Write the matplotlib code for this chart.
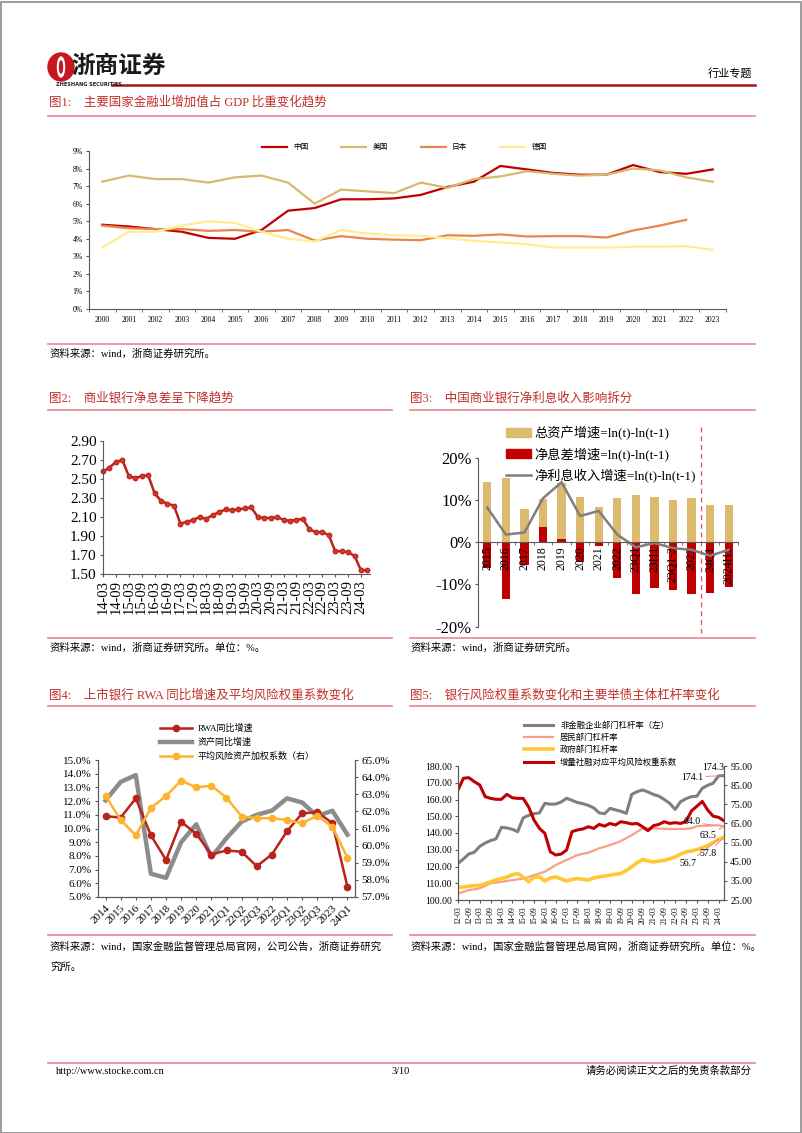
import numpy as np
import matplotlib.pyplot as plt
from matplotlib.lines import Line2D
from matplotlib.patches import Rectangle, Patch, Ellipse

W, H = 802, 1133
plt.rcParams['font.family'] = ['Liberation Serif', 'Noto Sans CJK SC']
plt.rcParams['axes.unicode_minus'] = False

# ---- 图1 金融业增加值占GDP比重 (%)
years1 = ['2000', '2001', '2002', '2003', '2004', '2005', '2006', '2007', '2008', '2009', '2010', '2011',
          '2012', '2013', '2014', '2015', '2016', '2017', '2018', '2019', '2020', '2021', '2022', '2023']
china = [4.8, 4.7, 4.55, 4.4, 4.05, 4.0, 4.5, 5.6, 5.75, 6.25, 6.25, 6.3,
         6.5, 6.95, 7.25, 8.15, 7.95, 7.75, 7.65, 7.65, 8.2, 7.8, 7.7, 7.95]
usa = [7.25, 7.6, 7.4, 7.4, 7.2, 7.5, 7.6, 7.2, 6.0, 6.8, 6.7, 6.6,
       7.2, 6.9, 7.4, 7.55, 7.85, 7.7, 7.6, 7.65, 8.0, 7.9, 7.5, 7.25]
japan = [4.75, 4.6, 4.55, 4.55, 4.45, 4.5, 4.4, 4.5, 3.9, 4.15, 4.0, 3.95,
         3.92, 4.2, 4.17, 4.25, 4.13, 4.15, 4.15, 4.07, 4.47, 4.75, 5.08]
germany = [3.5, 4.4, 4.4, 4.75, 5.0, 4.9, 4.4, 4.0, 3.85, 4.5, 4.3, 4.2,
           4.17, 4.03, 3.88, 3.8, 3.69, 3.5, 3.5, 3.5, 3.55, 3.55, 3.58, 3.37]

# ---- 图2 商业银行净息差 (%)
nim = [2.58, 2.62, 2.68, 2.70, 2.53, 2.51, 2.53, 2.54, 2.35, 2.27, 2.24, 2.22,
       2.03, 2.05, 2.07, 2.10, 2.08, 2.12, 2.15, 2.18, 2.17, 2.18, 2.19, 2.20,
       2.10, 2.09, 2.09, 2.10, 2.07, 2.06, 2.07, 2.08, 1.97, 1.94, 1.94, 1.91,
       1.74, 1.74, 1.73, 1.69, 1.54, 1.54]
nim_labels = ['14-03', '14-09', '15-03', '15-09', '16-03', '16-09', '17-03', '17-09', '18-03', '18-09',
              '19-03', '19-09', '20-03', '20-09', '21-03', '21-09', '22-03', '22-09', '23-03', '23-09', '24-03']

# ---- 图3 净利息收入拆分 (%)
cats3 = ['2015', '2016', '2017', '2018', '2019', '2020', '2021', '2022',
         '23Q1', '23H1', '23Q1-3', '2023', '24Q1', '2024H1']
asset_g = [14.3, 15.3, 7.8, 10.3, 14.0, 10.8, 8.3, 10.4, 11.1, 10.6, 10.0, 10.5, 8.8, 8.8]
nim_g = [-6.1, -13.5, -5.5, 3.7, 0.8, -4.6, -0.9, -8.5, -12.3, -10.9, -11.4, -12.2, -12.1, -10.6]
nii_g = [8.2, 1.8, 2.3, 10.4, 14.2, 6.2, 7.4, 1.8, -1.2, -0.2, -1.4, -1.8, -3.2, -1.8]

# ---- 图4 RWA / 资产增速 / 平均风险权重
cats4 = ['2014', '2015', '2016', '2017', '2018', '2019', '2020', '2021', '22Q1', '22Q2', '22Q3',
         '2022', '23Q1', '23Q2', '23Q3', '2023', '24Q1']
rwa_g = [10.9, 10.8, 12.2, 9.5, 7.7, 10.5, 9.6, 8.1, 8.4, 8.3, 7.25, 8.1, 9.8, 11.1, 11.2, 10.4, 5.75]
asset_yoy = [12.05, 13.4, 13.9, 6.7, 6.4, 9.0, 10.3, 7.9, 9.3, 10.5, 11.0, 11.3, 12.2, 11.9, 10.9, 11.3, 9.55]
rw_avg = [62.9, 61.5, 60.6, 62.2, 62.9, 63.8, 63.4, 63.5, 62.8, 61.7, 61.6, 61.6, 61.5, 61.3, 61.75, 61.1, 59.3]

# ---- 图5 杠杆率与风险权重系数 (季度 12Q1-24Q2)
lev_labels = ['12-03', '12-09', '13-03', '13-09', '14-03', '14-09', '15-03', '15-09', '16-03', '16-09',
              '17-03', '17-09', '18-03', '18-09', '19-03', '19-09', '20-03', '20-09', '21-03', '21-09',
              '22-03', '22-09', '23-03', '23-09', '24-03']
corp_lev = [121.9, 124.5, 127.5, 128.5, 132.0, 134.0, 135.5, 136.5, 143.4, 143.0, 142.2, 140.8,
            149.0, 150.5, 151.5, 152.0, 157.7, 157.2, 157.3, 158.5, 160.7, 159.5, 158.2, 157.5,
            156.5, 155.0, 152.0, 151.5, 154.7, 153.8, 153.0, 151.7, 163.0, 164.7, 165.7, 164.5,
            163.0, 162.0, 160.0, 157.7, 154.1, 158.7, 160.5, 161.7, 162.0, 166.7, 168.5, 169.7,
            174.1, 174.3]
house_lev = [28.4, 29.3, 30.2, 30.6, 31.1, 32.4, 33.7, 34.1, 34.5, 35.0, 35.4, 35.8,
             36.1, 37.0, 38.0, 38.9, 39.8, 41.5, 43.3, 44.6, 45.9, 47.2, 48.5, 49.1,
             49.7, 50.8, 52.0, 52.8, 53.7, 54.7, 55.8, 57.3, 58.9, 60.6, 62.4, 62.4,
             62.4, 62.3, 62.2, 62.1, 62.1, 62.1, 62.2, 62.5, 63.6, 63.7, 63.8, 64.0,
             64.0, 63.5]
gov_lev = [31.4, 31.8, 32.2, 32.5, 32.6, 33.5, 34.5, 35.5, 36.2, 37.0, 38.2, 38.8,
           37.0, 34.5, 36.8, 37.1, 35.0, 36.5, 37.1, 36.0, 34.9, 35.8, 36.2, 35.8,
           35.4, 36.5, 37.1, 37.5, 38.0, 38.5, 38.8, 40.5, 42.3, 44.5, 46.1, 45.5,
           44.9, 45.3, 45.7, 46.5, 47.5, 49.0, 50.1, 50.6, 51.3, 52.3, 53.5, 55.0,
           56.7, 57.8]
tsf_rw = [82.5, 88.6, 88.9, 86.8, 85.1, 79.0, 78.1, 77.6, 77.6, 80.2, 78.4, 78.1,
          78.1, 73.7, 66.8, 62.4, 59.8, 50.2, 48.5, 49.0, 51.1, 60.7, 61.6, 62.1,
          63.3, 62.4, 64.5, 63.6, 65.0, 64.2, 65.9, 65.4, 64.7, 65.0, 63.3, 61.2,
          63.8, 64.5, 65.9, 65.0, 65.4, 65.0, 66.0, 71.5, 74.0, 76.5, 72.0, 68.8,
          68.2, 66.4]

TITLE_RED = '#C0302B'
RULE = '#E58A90'
AXC = '#595959'

fig = plt.figure(figsize=(W / 100, H / 100), dpi=100)


def box(x0, y0, x1, y1):
    return fig.add_axes([x0 / W, 1 - y1 / H, (x1 - x0) / W, (y1 - y0) / H])


def txt(x, y, s, **kw):
    kw.setdefault('va', 'center')
    return fig.text(x / W, 1 - y / H, s, **kw)


def hline(x0, x1, y, **kw):
    fig.add_artist(Line2D([x0 / W, x1 / W], [1 - y / H, 1 - y / H], **kw))


def style(ax, spines=('left', 'bottom')):
    for k, s in ax.spines.items():
        s.set_visible(k in spines)
        s.set_color(AXC)
        s.set_linewidth(0.8)
    ax.tick_params(colors=AXC, labelcolor='black', width=0.8, length=2.5)
    ax.set_facecolor('none')


# page frame
fig.add_artist(Rectangle((0.5 / W, 0.5 / H), (W - 2) / W, (H - 2) / H, fill=False,
                         ec='#8C8C8C', lw=1.2, transform=fig.transFigure))

# header
fig.add_artist(Ellipse((61 / W, 1 - 67 / H), 26 / W, 28 / H, color='#C8161D', transform=fig.transFigure))
fig.add_artist(Ellipse((61 / W, 1 - 67 / H), 7 / W, 20 / H, color='white', transform=fig.transFigure))
fig.add_artist(Ellipse((61 / W, 1 - 67 / H), 3 / W, 12 / H, color='#C8161D', transform=fig.transFigure))
txt(71, 66, '浙商证券', fontsize=17, fontweight='bold', color='#1A1A1A', family='Noto Sans CJK SC')
txt(56, 85, 'ZHESHANG SECURITIES', fontsize=3.6, fontweight='bold', color='#1A1A1A', family='DejaVu Sans')
txt(752, 73, '行业专题', fontsize=8, ha='right')
hline(112, 755, 84.5, color='#A8141A', lw=1.8)

# titles / rules / sources
txt(49, 102, '图1:    主要国家金融业增加值占 GDP 比重变化趋势', fontsize=9, color=TITLE_RED)
hline(48, 755, 116, color=RULE, lw=1.2)
hline(48, 755, 344, color=RULE, lw=1.2)
txt(50, 354, '资料来源：wind，浙商证券研究所。', fontsize=7.5)

txt(49, 398, '图2:    商业银行净息差呈下降趋势', fontsize=9, color=TITLE_RED)
txt(410, 398, '图3:    中国商业银行净利息收入影响拆分', fontsize=9, color=TITLE_RED)
hline(48, 392, 410, color=RULE, lw=1.2)
hline(410, 755, 410, color=RULE, lw=1.2)
hline(48, 392, 638, color=RULE, lw=1.2)
hline(410, 755, 638, color=RULE, lw=1.2)
txt(50, 648, '资料来源：wind，浙商证券研究所。单位：%。', fontsize=7.5)
txt(411, 648, '资料来源：wind，浙商证券研究所。', fontsize=7.5)

txt(49, 695, '图4:    上市银行 RWA 同比增速及平均风险权重系数变化', fontsize=9, color=TITLE_RED)
txt(410, 695, '图5:    银行风险权重系数变化和主要举债主体杠杆率变化', fontsize=9, color=TITLE_RED)
hline(48, 392, 706, color=RULE, lw=1.2)
hline(410, 755, 706, color=RULE, lw=1.2)
hline(48, 392, 935, color=RULE, lw=1.2)
hline(410, 755, 935, color=RULE, lw=1.2)
txt(50, 947, '资料来源：wind，国家金融监督管理总局官网，公司公告，浙商证券研究', fontsize=7.5)
txt(50, 968, '究所。', fontsize=7.5)
txt(411, 947, '资料来源：wind，国家金融监督管理总局官网，浙商证券研究所。单位：%。', fontsize=7.5)

# footer
hline(48, 755, 1063, color=RULE, lw=1.2)
txt(56, 1071, 'http://www.stocke.com.cn', fontsize=7.5)
txt(401, 1071, '3/10', fontsize=7.5, ha='center')
txt(752, 1071, '请务必阅读正文之后的免责条款部分', fontsize=7.5, ha='right')

# ---------------- 图1
ax1 = box(89, 151, 726, 309)
style(ax1)
x1 = np.arange(len(years1))
ax1.plot(x1, china, color='#C00000', lw=1.6, label='中国')
ax1.plot(x1, usa, color='#D9B86F', lw=1.6, label='美国')
ax1.plot(np.arange(len(japan)), japan, color='#E9844B', lw=1.6, label='日本')
ax1.plot(x1, germany, color='#FFEE90', lw=1.6, label='德国')
ax1.set_xlim(-0.5, len(years1) - 0.5)
ax1.set_ylim(0, 9)
ax1.set_yticks(range(10))
ax1.set_yticklabels([f'{v}%' for v in range(10)])
ax1.set_xticks(x1)
ax1.set_xticklabels(years1)
ax1.set_xticks(np.arange(-0.5, len(years1)), minor=True)
ax1.tick_params(axis='x', which='major', length=0, labelsize=5.5, pad=5)
ax1.tick_params(axis='x', which='minor', length=2.5, color=AXC)
ax1.tick_params(axis='y', labelsize=5.5, pad=2)
ax1.legend(ncol=4, loc='lower left', bbox_to_anchor=(258 / W, 1 - 155 / H), bbox_transform=fig.transFigure,
           frameon=False, fontsize=5.5, handlelength=3.3, handletextpad=0.8, columnspacing=4.3, borderpad=0)

# ---------------- 图2
ax2 = box(103, 441, 370, 574)
style(ax2)
x2 = np.arange(len(nim))
ax2.plot(x2, nim, color='#B8231A', lw=1.8, marker='o', ms=3.2, mfc='#D53A2B', mec='#C0281E', clip_on=False)
ax2.set_xlim(0, len(nim) - 0.6)
ax2.set_ylim(1.5, 2.9)
yt2 = np.arange(1.5, 2.91, 0.2)
ax2.set_yticks(yt2)
ax2.set_yticklabels([f'{v:.2f}' for v in yt2])
ax2.set_xticks(np.arange(0, len(nim), 2))
ax2.set_xticklabels(nim_labels, rotation=90)
ax2.tick_params(axis='y', labelsize=11, pad=2)
ax2.tick_params(axis='x', labelsize=10.5, pad=2)

# ---------------- 图3
ax3 = box(478, 457.7, 738, 626.7)
style(ax3)
x3 = np.arange(len(cats3))
ax3.bar(x3, asset_g, width=0.45, color='#DDBB6E')
ax3.bar(x3, nim_g, width=0.45, color='#C00000')
l3, = ax3.plot(x3, nii_g, color='#7F7F7F', lw=1.8)
ax3.set_xlim(-0.5, len(cats3) - 0.5)
ax3.set_ylim(-20, 20)
ax3.set_yticks([-20, -10, 0, 10, 20])
ax3.set_yticklabels([f'{v}%' for v in [-20, -10, 0, 10, 20]])
ax3.spines['bottom'].set_position(('data', 0))
ax3.set_xticks(x3)
ax3.set_xticklabels(cats3, rotation=90)
ax3.set_xticks(np.arange(-0.5, len(cats3)), minor=True)
ax3.tick_params(axis='x', which='major', length=0, labelsize=8.5, pad=3)
ax3.tick_params(axis='x', which='minor', length=2.5, color=AXC)
ax3.tick_params(axis='y', labelsize=12, pad=2)
ax3.legend([Patch(color='#DDBB6E'), Patch(color='#C00000'), l3],
           ['总资产增速=ln(t)-ln(t-1)', '净息差增速=ln(t)-ln(t-1)', '净利息收入增速=ln(t)-ln(t-1)'],
           loc='upper left', bbox_to_anchor=(499 / W, 1 - 419 / H), bbox_transform=fig.transFigure,
           frameon=False, fontsize=9.5, handlelength=1.9, handletextpad=0.3, labelspacing=0.55, borderpad=0)
fig.add_artist(Line2D([700.9 / W] * 2, [1 - 427 / H, 1 - 633 / H], color='#E0505A', lw=0.9, ls=(0, (4, 3))))

# ---------------- 图4
ax4 = box(98, 760, 355, 897)
style(ax4, ('left', 'bottom', 'right'))
ax4r = ax4.twinx()
style(ax4r, ('left', 'bottom', 'right'))
x4 = np.arange(len(cats4))
la, = ax4.plot(x4, rwa_g, color='#B8231A', lw=1.8, marker='o', ms=4.5, zorder=3)
lb, = ax4.plot(x4, asset_yoy, color='#8C8C8C', lw=3.2, zorder=2)
lc, = ax4r.plot(x4, rw_avg, color='#FDB32F', lw=1.8, marker='o', ms=4.5)
ax4.set_xlim(-0.5, len(cats4) - 0.5)
ax4.set_ylim(5, 15)
ax4.set_yticks(range(5, 16))
ax4.set_yticklabels([f'{v:.1f}%' for v in range(5, 16)])
ax4r.set_ylim(57, 65)
ax4r.set_yticks(range(57, 66))
ax4r.set_yticklabels([f'{v:.1f}%' for v in range(57, 66)])
ax4.set_xticks(x4)
ax4.set_xticklabels(cats4, rotation=45, ha='right', rotation_mode='anchor')
ax4.tick_params(axis='x', labelsize=8, pad=2)
ax4.tick_params(axis='y', labelsize=8, pad=2)
ax4r.tick_params(axis='y', labelsize=8, pad=2)
ax4.legend([la, lb, lc], ['RWA同比增速', '资产同比增速', '平均风险资产加权系数（右）'],
           loc='upper left', bbox_to_anchor=(155 / W, 1 - 719 / H), bbox_transform=fig.transFigure,
           frameon=False, fontsize=6.5, handlelength=3.6, handletextpad=0.6, labelspacing=0.55, borderpad=0)

# ---------------- 图5
ax5 = box(458, 766, 724, 900)
style(ax5, ('left', 'bottom', 'right'))
ax5r = ax5.twinx()
style(ax5r, ('left', 'bottom', 'right'))
x5 = np.arange(len(corp_lev))
g1, = ax5.plot(x5, corp_lev, color='#7F7F7F', lw=2.2)
g2, = ax5r.plot(x5, house_lev, color='#F4A08C', lw=1.6)
g3, = ax5r.plot(x5, gov_lev, color='#FFC832', lw=2.6)
g4, = ax5r.plot(x5, tsf_rw, color='#C00000', lw=2.2)
ax5.set_xlim(0, len(corp_lev) - 1)
ax5.set_ylim(100, 180)
ax5.set_yticks(range(100, 181, 10))
ax5.set_yticklabels([f'{v:.2f}' for v in range(100, 181, 10)])
ax5r.set_ylim(25, 95)
ax5r.set_yticks(range(25, 96, 10))
ax5r.set_yticklabels([f'{v:.2f}' for v in range(25, 96, 10)])
ax5.set_xticks(np.arange(0, len(corp_lev), 2))
ax5.set_xticklabels(lev_labels, rotation=90)
ax5.tick_params(axis='x', labelsize=5.5, pad=2)
ax5.tick_params(axis='y', labelsize=7, pad=2)
ax5r.tick_params(axis='y', labelsize=7, pad=2)
ax5.legend([g1, g2, g3, g4], ['非金融企业部门杠杆率（左）', '居民部门杠杆率', '政府部门杠杆率', '增量社融对应平均风险权重系数'],
           loc='upper left', bbox_to_anchor=(520 / W, 1 - 717 / H), bbox_transform=fig.transFigure,
           frameon=False, fontsize=6, handlelength=3.5, handletextpad=0.8, labelspacing=0.45, borderpad=0)

ap = dict(arrowstyle='-', color='#F08A80', lw=0.7, shrinkA=0, shrinkB=0)
ax5.annotate(f'{corp_lev[-1]:.1f}', xy=(x5[-1], corp_lev[-1]), xytext=(713, H - 768), textcoords='figure pixels',
             fontsize=7, ha='center', va='center', arrowprops=ap, annotation_clip=False)
ax5.annotate(f'{corp_lev[-2]:.1f}', xy=(x5[-2], corp_lev[-2]), xytext=(692, H - 777), textcoords='figure pixels',
             fontsize=7, ha='center', va='center', arrowprops=ap, annotation_clip=False)
ax5r.annotate(f'{house_lev[-3]:.1f}', xy=(x5[-3], house_lev[-3]), xytext=(692, H - 822), textcoords='figure pixels',
              fontsize=7, ha='center', va='center', arrowprops=ap)
ax5r.annotate(f'{house_lev[-1]:.1f}', xy=(x5[-1], house_lev[-1]), xytext=(708, H - 836), textcoords='figure pixels',
              fontsize=7, ha='center', va='center', arrowprops=ap)
ax5r.annotate(f'{gov_lev[-2]:.1f}', xy=(x5[-2], gov_lev[-2]), xytext=(688, H - 863), textcoords='figure pixels',
              fontsize=7, ha='center', va='center', arrowprops=ap)
ax5r.annotate(f'{gov_lev[-1]:.1f}', xy=(x5[-1], gov_lev[-1]), xytext=(708, H - 853), textcoords='figure pixels',
              fontsize=7, ha='center', va='center', arrowprops=ap)

fig.savefig('out.png', dpi=100)
